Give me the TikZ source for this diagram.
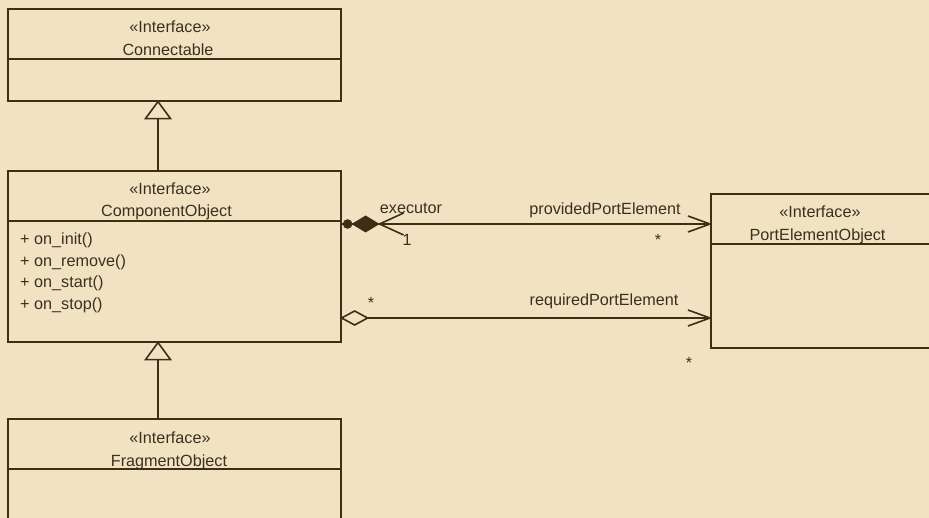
\documentclass[tikz,border=0pt]{standalone}
\usepackage{fontspec}
\setmainfont{Liberation Sans}
\usetikzlibrary{calc}
\definecolor{bg}{HTML}{F1E3C2}
\definecolor{ln}{HTML}{3D2F14}
\definecolor{tx}{HTML}{3A3020}
\begin{document}
\begin{tikzpicture}[x=1pt,y=-1pt,
  box/.style={draw=ln, line width=1.6pt, rectangle, inner sep=0pt, anchor=north west},
  edge/.style={draw=ln, line width=1.6pt},
  lbl/.style={text=tx, font=\fontsize{16.2}{19}\selectfont, inner sep=0pt, anchor=base},
  meth/.style={lbl, anchor=base west}]
\useasboundingbox (0,0) rectangle (929,518);
\fill[bg] (0,0) rectangle (929,518);
\clip (0,0) rectangle (929,518);

% boxes
\node[box, minimum width=333pt, minimum height=92pt] (conn) at (7,8) {};
\node[box, minimum width=333pt, minimum height=171pt] (comp) at (7,170) {};
\node[box, minimum width=333pt, minimum height=120pt] (frag) at (7,418) {};
\node[box, minimum width=240pt, minimum height=154pt] (port) at (710,193) {};

% dividers
\draw[edge] ($(conn.north west)+(0,51)$) -- ($(conn.north east)+(0,51)$);
\draw[edge] ($(comp.north west)+(0,51)$) -- ($(comp.north east)+(0,51)$);
\draw[edge] ($(frag.north west)+(0,51)$) -- ($(frag.north east)+(0,51)$);
\draw[edge] ($(port.north west)+(0,51)$) -- ($(port.north east)+(0,51)$);

% texts
\node[lbl] (connst) at (170,33) {«Interface»};
\node[lbl] (connnm) at (168,56) {Connectable};
\node[lbl] (compst) at (170,195) {«Interface»};
\node[lbl] (compnm) at (166.5,217) {ComponentObject};
\node[meth] (m1) at (20,245) {+ on\_init()};
\node[meth] (m2) at (20,266.5) {+ on\_remove()};
\node[meth] (m3) at (20,288) {+ on\_start()};
\node[meth] (m4) at (20,309.5) {+ on\_stop()};
\node[lbl] (fragst) at (170,443) {«Interface»};
\node[lbl] (fragnm) at (169,466) {FragmentObject};
\node[lbl] (portst) at (820,218) {«Interface»};
\node[lbl] (portnm) at (817.5,241) {PortElementObject};

% generalizations
\draw[edge] ($(comp.north west)+(151,0)$) -- ($(conn.south west)+(151,17)$);
\draw[edge, fill=bg, line join=miter] ($(conn.south west)+(151,0)$) -- ++(-12.5,17) -- ++(25,0) -- cycle;
\draw[edge] ($(frag.north west)+(151,0)$) -- ($(comp.south west)+(151,17)$);
\draw[edge, fill=bg, line join=miter] ($(comp.south west)+(151,0)$) -- ++(-12.5,17) -- ++(25,0) -- cycle;

% composition
\coordinate (cs) at ($(comp.north east)+(0,54)$);
\coordinate (pt) at ($(port.north west)+(0,31)$);
\draw[edge] (cs) -- (pt);
\fill[ln] ($(cs)+(6,0)$) circle (4.8pt);
\fill[ln] ($(cs)+(10,0)$) -- ++(14,-8.5) -- ++(14,8.5) -- ++(-14,8.5) -- cycle;
\draw[edge] ($(cs)+(62,-11)$) -- ($(cs)+(38,0)$) -- ($(cs)+(62,11)$);
\draw[edge] ($(pt)+(-22,-8)$) -- (pt) -- ($(pt)+(-22,8)$);
\node[lbl] (exe) at (411,214) {executor};
\node[lbl] (one) at (407,246) {1};
\node[lbl] (prov) at (605,215) {providedPortElement};
\node[lbl] (st1) at (658,246) {*};

% aggregation
\coordinate (cs2) at ($(comp.north east)+(0,148)$);
\coordinate (pt2) at ($(port.north west)+(0,125)$);
\draw[edge] ($(cs2)+(26,0)$) -- (pt2);
\draw[edge, fill=bg] (cs2) -- ++(13,-7) -- ++(13,7) -- ++(-13,7) -- cycle;
\draw[edge] ($(pt2)+(-22,-8)$) -- (pt2) -- ($(pt2)+(-22,8)$);
\node[lbl] (st2) at (371,309) {*};
\node[lbl] (req) at (604,306) {requiredPortElement};
\node[lbl] (st3) at (689,369) {*};
\end{tikzpicture}
\end{document}
